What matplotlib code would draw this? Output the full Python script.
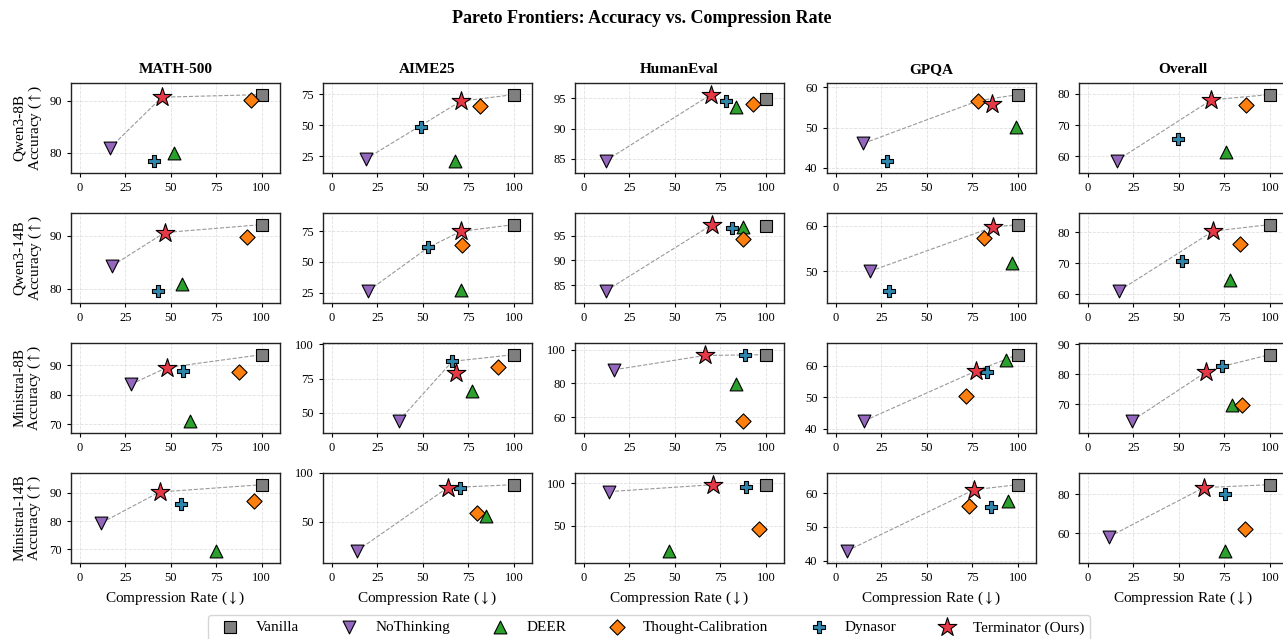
import numpy as np
import matplotlib
matplotlib.use('Agg')
import matplotlib.pyplot as plt
from matplotlib.ticker import MaxNLocator

plt.rcParams['font.family'] = ['Liberation Serif', 'DejaVu Serif']
plt.rcParams['mathtext.fontset'] = 'stix'

benchmarks = ['MATH-500', 'AIME25', 'HumanEval', 'GPQA', 'Overall']
models = ['Qwen3-8B', 'Qwen3-14B', 'Ministral-8B', 'Ministral-14B']

# compression rate (%) and accuracy (%): one row per model, one column per benchmark
vanilla_cr = [[100, 100, 100, 100, 100]] * 4
vanilla_acc = [[91.2, 74.8, 94.9, 58.2, 79.8],
               [92.1, 80.2, 96.9, 60.3, 82.5],
               [93.6, 92.5, 97.1, 63.5, 86.5],
               [92.9, 88.0, 97.7, 62.6, 84.9]]

nothinking_cr = [[16.4, 18.6, 12.1, 15.2, 15.8],
                 [17.7, 20.1, 12.2, 18.8, 17.2],
                 [28.1, 36.9, 16.6, 15.7, 24.3],
                 [11.9, 13.9, 14.0, 6.2, 11.7]]
nothinking_acc = [[80.9, 22.6, 84.7, 46.1, 58.6],
                  [84.3, 26.6, 83.9, 50.0, 61.2],
                  [83.5, 44.3, 88.1, 42.6, 64.6],
                  [79.4, 20.5, 90.2, 42.9, 58.3]]

deer_cr = [[52.0, 67.6, 83.5, 99.2, 75.8],
           [56.2, 70.9, 87.2, 97.0, 78.0],
           [60.4, 77.0, 83.9, 93.7, 79.1],
           [74.6, 84.6, 46.6, 94.5, 75.5]]
deer_acc = [[79.9, 21.3, 93.6, 50.2, 61.4],
            [80.8, 27.3, 96.8, 51.9, 64.5],
            [71.1, 66.3, 79.8, 61.8, 69.9],
            [69.5, 55.9, 20.0, 57.8, 51.1]]

thoughtcal_cr = [[93.8, 81.3, 93.0, 78.4, 87.0],
                 [92.0, 71.3, 87.2, 81.5, 83.5],
                 [87.6, 91.2, 87.2, 71.4, 84.8],
                 [95.6, 79.7, 96.3, 73.3, 86.6]]
thoughtcal_acc = [[90.1, 65.9, 94.0, 56.7, 76.5],
                  [89.8, 63.3, 94.3, 57.3, 76.1],
                  [87.7, 83.6, 57.8, 50.4, 69.9],
                  [87.3, 59.3, 45.3, 56.2, 62.2]]

dynasor_cr = [[40.9, 48.8, 78.4, 28.3, 49.6],
              [42.7, 53.0, 81.7, 29.0, 51.8],
              [56.9, 66.2, 88.3, 83.3, 73.8],
              [55.5, 70.6, 89.0, 85.1, 75.3]]
dynasor_acc = [[78.5, 48.9, 94.5, 41.8, 65.6],
               [79.6, 61.7, 96.5, 45.7, 70.9],
               [88.2, 87.6, 96.9, 57.9, 82.6],
               [86.2, 84.2, 95.7, 55.9, 80.0]]

terminator_cr = [[45.1, 70.8, 69.8, 85.7, 67.9],
                 [46.7, 70.9, 70.5, 86.6, 68.8],
                 [47.8, 68.0, 66.5, 76.9, 64.8],
                 [43.8, 63.6, 71.1, 76.0, 63.7]]
terminator_acc = [[90.7, 69.4, 95.6, 55.8, 78.1],
                  [90.6, 74.7, 97.2, 59.8, 80.4],
                  [89.2, 79.1, 96.6, 58.3, 80.7],
                  [90.3, 84.9, 98.4, 61.1, 83.4]]

methods = [
    ('Vanilla', vanilla_cr, vanilla_acc, 's', '#7f7f7f', 72),
    ('NoThinking', nothinking_cr, nothinking_acc, 'v', '#9467bd', 85),
    ('DEER', deer_cr, deer_acc, '^', '#2ca02c', 85),
    ('Thought-Calibration', thoughtcal_cr, thoughtcal_acc, 'D', '#ff7f0e', 60),
    ('Dynasor', dynasor_cr, dynasor_acc, 'P', '#2e86ab', 80),
    ('Terminator (Ours)', terminator_cr, terminator_acc, '*', '#e63946', 200),
]


def pareto_front(xs, ys):
    # non-dominated points (lower rate, higher accuracy), then the upper hull
    order = sorted(range(len(xs)), key=lambda i: (xs[i], -ys[i]))
    front = []
    best = -np.inf
    for i in order:
        if ys[i] > best:
            front.append(i)
            best = ys[i]
    hull = []
    for i in front:
        while len(hull) >= 2:
            a, b = hull[-2], hull[-1]
            cross = (xs[b] - xs[a]) * (ys[i] - ys[a]) - (ys[b] - ys[a]) * (xs[i] - xs[a])
            if cross >= 0:
                hull.pop()
            else:
                break
        hull.append(i)
    return hull


fig, axes = plt.subplots(4, 5, figsize=(12.83, 6.39), dpi=100)
plt.subplots_adjust(left=0.0551, right=1.0039, top=0.8706, bottom=0.1194,
                    wspace=0.204, hspace=0.446)

for r, model in enumerate(models):
    for c, bench in enumerate(benchmarks):
        ax = axes[r, c]
        xs = [m[1][r][c] for m in methods]
        ys = [m[2][r][c] for m in methods]

        front = pareto_front(xs, ys)
        ax.plot([xs[i] for i in front], [ys[i] for i in front], '--',
                color='#999999', linewidth=0.8, zorder=2)

        for name, cr, acc, mk, col, size in methods:
            ax.scatter(cr[r][c], acc[r][c], marker=mk, s=size, color=col,
                       edgecolor='black', linewidth=0.8, zorder=3, label=name)

        span = max(ys) - min(ys)
        ax.set_ylim(min(ys) - 0.18 * span, max(ys) + 0.18 * span)
        ax.set_xlim(-5, 110)
        ax.set_xticks([0, 25, 50, 75, 100])
        ax.yaxis.set_major_locator(MaxNLocator(nbins=3, steps=[1, 2, 2.5, 5, 10]))
        ax.tick_params(labelsize=9, length=3, width=0.8)
        ax.grid(True, linestyle='--', color='#cccccc', alpha=0.6, linewidth=0.6)
        ax.set_axisbelow(True)
        for sp in ax.spines.values():
            sp.set_linewidth(1.0)
            sp.set_color('#222222')

        if r == 0:
            ax.set_title(bench, fontsize=11, fontweight='bold', pad=7)
        if c == 0:
            ax.set_ylabel(model + '\nAccuracy ($\\uparrow$)', fontsize=11, linespacing=1.0)
        if r == len(models) - 1:
            ax.set_xlabel('Compression Rate ($\\downarrow$)', fontsize=11)

handles, labels = axes[0, 0].get_legend_handles_labels()
fig.legend(handles, labels, loc='upper center', bbox_to_anchor=(0.506, 0.05),
           ncol=6, fontsize=11, columnspacing=2.3, handletextpad=0.7,
           frameon=True, edgecolor='#cccccc')

fig.suptitle('Pareto Frontiers: Accuracy vs. Compression Rate',
             fontsize=13, fontweight='bold', y=0.985, va='top')

plt.savefig('out.png', dpi=100)
